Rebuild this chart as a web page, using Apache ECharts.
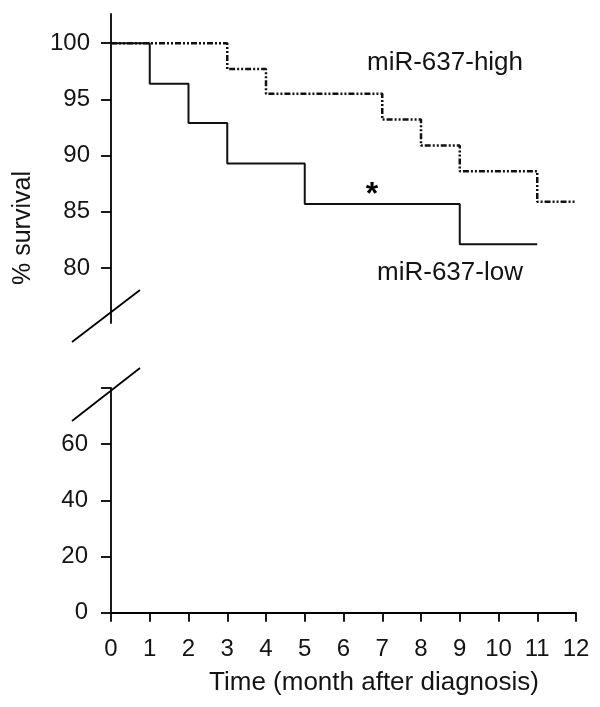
<!DOCTYPE html>
<html>
<head>
<meta charset="utf-8">
<script src="https://cdn.jsdelivr.net/npm/echarts@6/dist/echarts.min.js"></script>
<style>html,body{margin:0;padding:0;background:#fff}#c{width:600px;height:707px}</style>
</head>
<body>
<div id="c"></div>
<script>
// ---- data ----
var months = [0,1,2,3,4,5,6,7,8,9,10,11,12];
var lowTimes = [0, 1, 2, 3, 5, 9, 11];
var lowSurvival = [100, 96.4, 92.9, 89.3, 85.7, 82.1, 82.1];
var highTimes = [0, 3, 4, 7, 8, 9, 11, 12];
var highSurvival = [100, 97.7, 95.5, 93.2, 90.9, 88.6, 85.9, 85.9];
var upperTicks = [80, 85, 90, 95, 100];
var lowerTicks = [0, 20, 40, 60, 80];
var lowerLabels = [0, 20, 40, 60];

var FONT = '"Liberation Sans", Arial, sans-serif';
var TXT = '#141414';
function pairs(xs, ys){ return xs.map(function(x,i){ return [x, ys[i]]; }); }

var chart = echarts.init(document.getElementById('c'), null, {renderer:'canvas'});
var L = 111, R = 24;
var option = {
  animation: false,
  backgroundColor: '#fff',
  grid: [
    {left: L, right: R, top: 14, height: 309},
    {left: L, right: R, top: 388, height: 224.7}
  ],
  xAxis: [
    {gridIndex: 0, type: 'value', min: 0, max: 12, show: false},
    {gridIndex: 1, type: 'value', min: 0, max: 12, interval: 1,
      axisLine: {show: true, onZero: false, lineStyle: {color: '#000', width: 1.8}},
      axisTick: {show: true, length: 9, lineStyle: {color: '#000', width: 1.8}},
      axisLabel: {fontSize: 24, color: TXT, fontFamily: FONT, margin: 25},
      splitLine: {show: false}}
  ],
  yAxis: [
    {gridIndex: 0, type: 'value', min: 75.1, max: 102.6,
      axisLine: {show: true, onZero: false, lineStyle: {color: '#000', width: 1.8}},
      axisTick: {show: true, length: 10, customValues: upperTicks, lineStyle: {color: '#000', width: 1.8}},
      axisLabel: {fontSize: 24, color: TXT, fontFamily: FONT, margin: 21, customValues: upperTicks},
      splitLine: {show: false}},
    {gridIndex: 1, type: 'value', min: 0, max: 80,
      axisLine: {show: true, onZero: false, lineStyle: {color: '#000', width: 1.8}},
      axisTick: {show: true, length: 10, customValues: lowerTicks, lineStyle: {color: '#000', width: 1.8}},
      axisLabel: {fontSize: 24, color: TXT, fontFamily: FONT, margin: 23, customValues: lowerLabels},
      splitLine: {show: false}}
  ],
  series: [
    {name: 'miR-637-low', type: 'line', xAxisIndex: 0, yAxisIndex: 0, step: 'end',
      data: pairs(lowTimes, lowSurvival), showSymbol: false, symbol: 'none',
      lineStyle: {color: '#111', width: 2, type: 'solid'}},
    {name: 'miR-637-high', type: 'line', xAxisIndex: 0, yAxisIndex: 0, step: 'end',
      data: pairs(highTimes, highSurvival), showSymbol: false, symbol: 'none',
      lineStyle: {color: '#111', width: 2.5, type: [6, 2, 2, 2, 2, 2]}}
  ],
  graphic: [
    {type: 'line', shape: {x1: 72, y1: 342, x2: 140, y2: 290}, style: {stroke: '#000', lineWidth: 1.8}},
    {type: 'line', shape: {x1: 72, y1: 421, x2: 140, y2: 368}, style: {stroke: '#000', lineWidth: 1.8}},
    {type: 'text', x: 445, y: 63, style: {text: 'miR-637-high', font: '26px ' + FONT, fill: TXT, textAlign: 'center', textVerticalAlign: 'middle'}},
    {type: 'text', x: 450, y: 273, style: {text: 'miR-637-low', font: '26px ' + FONT, fill: TXT, textAlign: 'center', textVerticalAlign: 'middle'}},
    {type: 'text', x: 372, y: 195, style: {text: '*', font: 'bold 32px ' + FONT, fill: '#000', textAlign: 'center', textVerticalAlign: 'middle'}},
    {type: 'text', x: 23, y: 228, rotation: Math.PI/2, style: {text: '% survival', font: '25px ' + FONT, fill: TXT, textAlign: 'center', textVerticalAlign: 'middle'}},
    {type: 'text', x: 374, y: 683, style: {text: 'Time (month after diagnosis)', font: '26px ' + FONT, fill: TXT, textAlign: 'center', textVerticalAlign: 'middle'}}
  ]
};
chart.setOption(option);
</script>
</body>
</html>
